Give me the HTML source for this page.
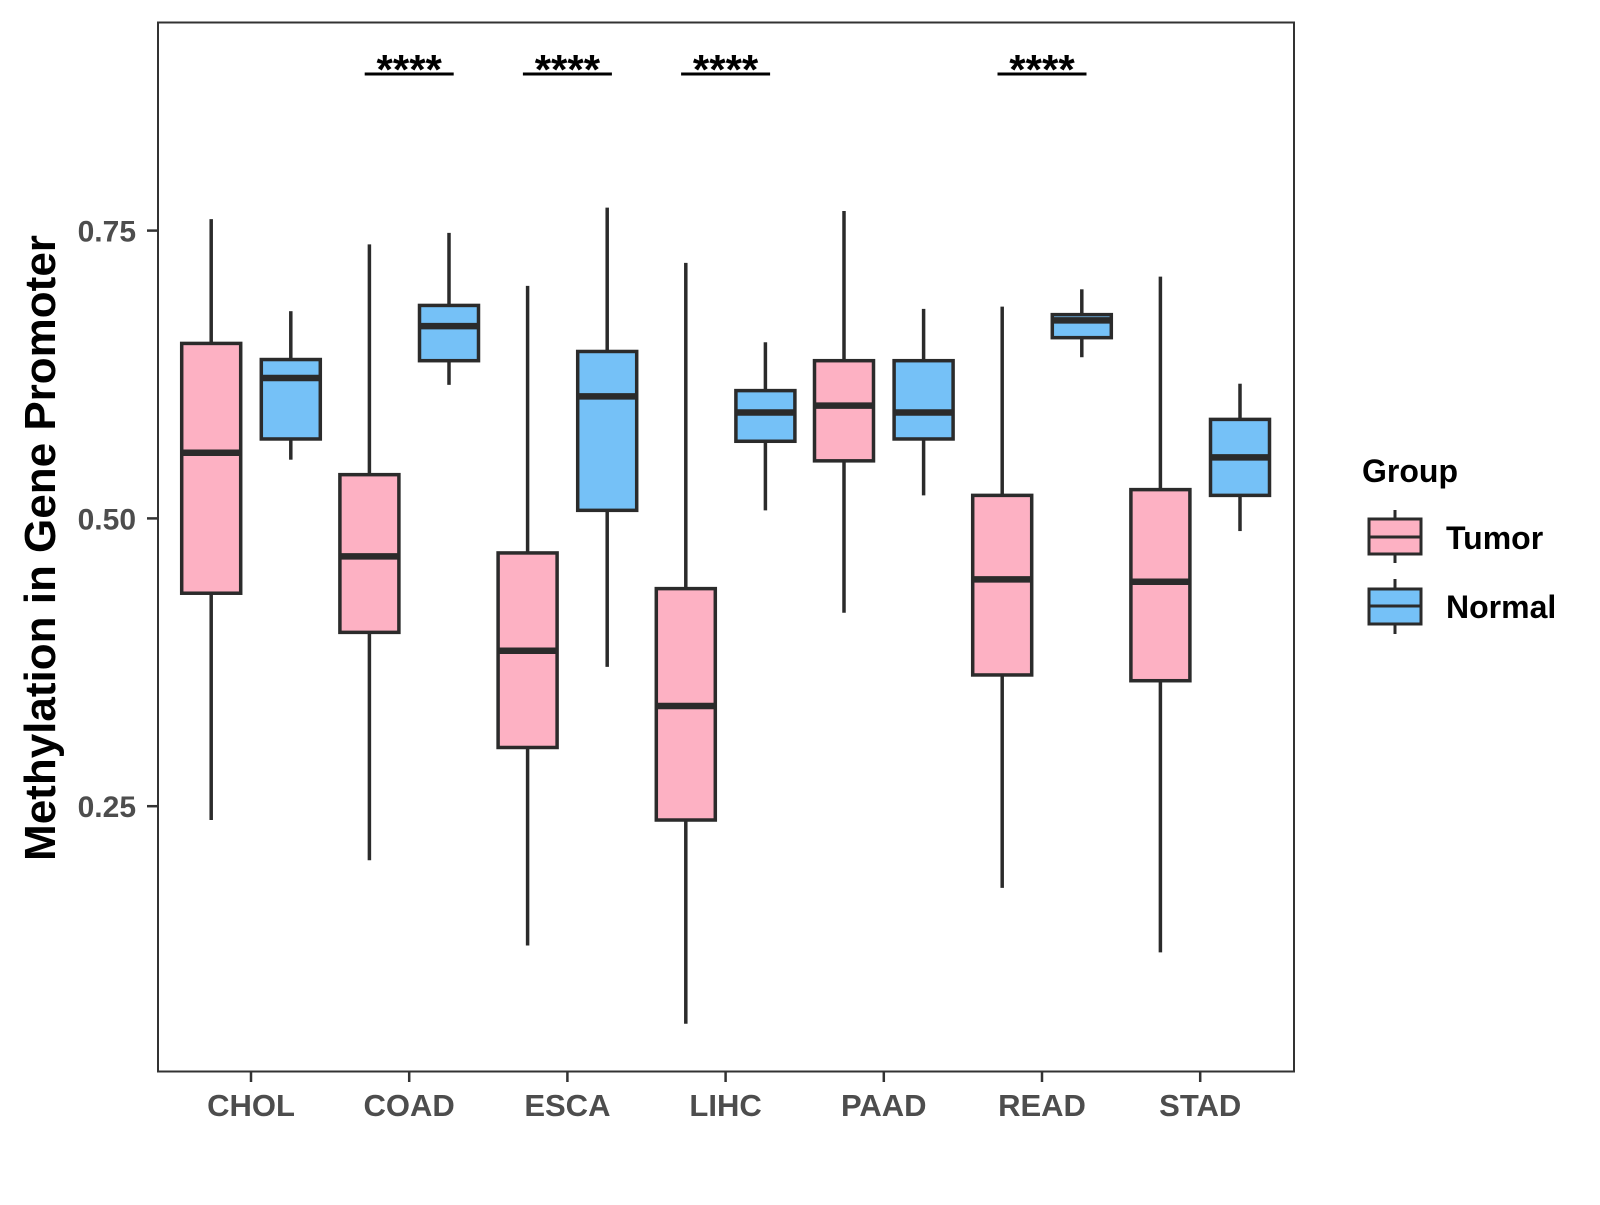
<!DOCTYPE html>
<html><head><meta charset="utf-8"><style>
body{margin:0;background:#fff}
svg text{font-family:"Liberation Sans",Arial,sans-serif;font-weight:bold}
</style></head><body>
<svg id="chart" width="1600" height="1200" xmlns="http://www.w3.org/2000/svg">
<rect x="158" y="22.5" width="1136" height="1049" fill="#fff" stroke="#333" stroke-width="2"/>
<g id="marks"></g>
<text transform="translate(55,548) rotate(-90)" text-anchor="middle" font-size="44" fill="#000">Methylation in Gene Promoter</text>
<g>
<text x="1362" y="482" font-size="32" fill="#000">Group</text>
<line x1="1395" y1="510" x2="1395" y2="563" stroke="#2b2b2b" stroke-width="3"/>
<rect x="1369" y="519" width="52" height="35" fill="#FDB1C3" stroke="#2b2b2b" stroke-width="3"/>
<line x1="1369" y1="537" x2="1421" y2="537" stroke="#2b2b2b" stroke-width="3"/>
<text x="1446" y="549" font-size="32" fill="#000">Tumor</text>
<line x1="1395" y1="579" x2="1395" y2="634" stroke="#2b2b2b" stroke-width="3"/>
<rect x="1369" y="589" width="52" height="35" fill="#75C1F7" stroke="#2b2b2b" stroke-width="3"/>
<line x1="1369" y1="606" x2="1421" y2="606" stroke="#2b2b2b" stroke-width="3"/>
<text x="1446" y="618" font-size="32" fill="#000">Normal</text>
</g>
</svg>
<script>
const categories=["CHOL","COAD","ESCA","LIHC","PAAD","READ","STAD"];
const tumorStats=[[0.238,0.435,0.557,0.652,0.760],[0.203,0.401,0.467,0.538,0.738],[0.129,0.301,0.385,0.470,0.702],[0.061,0.238,0.337,0.439,0.722],[0.418,0.550,0.598,0.637,0.767],[0.179,0.364,0.447,0.520,0.684],[0.123,0.359,0.445,0.525,0.710]];
const normalStats=[[0.551,0.569,0.622,0.638,0.680],[0.616,0.637,0.667,0.685,0.748],[0.371,0.507,0.606,0.645,0.770],[0.507,0.567,0.592,0.611,0.653],[0.520,0.569,0.592,0.637,0.682],[0.640,0.657,0.672,0.677,0.699],[0.489,0.520,0.553,0.586,0.617]];
const significance=["","****","****","****","","****",""];
const yTicks=[0.25,0.5,0.75];
const yTickLabels=["0.25","0.50","0.75"];
const NS="http://www.w3.org/2000/svg";
const g=document.getElementById('marks');
const y=v=>518.4-(v-0.5)*1151.2;
const x=i=>251+i*158.2;
function el(t,a,p){const e=document.createElementNS(NS,t);for(const k in a)e.setAttribute(k,a[k]);(p||g).appendChild(e);return e;}
yTicks.forEach((t,i)=>{
 const l=el('line',{x1:147,x2:158,y1:y(t),y2:y(t),stroke:'#333','stroke-width':2.5});
 
 
 const tx=el('text',{x:136,y:y(t)+11,'text-anchor':'end','font-size':30,fill:'#4d4d4d'});
 tx.textContent=yTickLabels[i];
 
 
});
function box(cx,s,fill,name){
 const w=59;
 const gr=el('g',{});
 
 
 el('line',{x1:cx,x2:cx,y1:y(s[4]),y2:y(s[3]),stroke:'#2b2b2b','stroke-width':3.5},gr);
 el('line',{x1:cx,x2:cx,y1:y(s[1]),y2:y(s[0]),stroke:'#2b2b2b','stroke-width':3.5},gr);
 el('rect',{x:cx-w/2,y:y(s[3]),width:w,height:y(s[1])-y(s[3]),fill:fill,stroke:'#2b2b2b','stroke-width':3.5},gr);
 el('line',{x1:cx-w/2,x2:cx+w/2,y1:y(s[2]),y2:y(s[2]),stroke:'#2b2b2b','stroke-width':6.5},gr);
}
categories.forEach((c,i)=>{
 const cx=x(i);
 const tk=el('line',{x1:cx,x2:cx,y1:1071,y2:1082,stroke:'#333','stroke-width':2.5});
 
 
 const t=el('text',{x:cx,y:1116,'text-anchor':'middle','font-size':31,fill:'#4d4d4d'});
 t.textContent=c;
 
 
 box(cx-39.8,tumorStats[i],'#FDB1C3','box-tumor-'+c.toLowerCase());
 box(cx+39.8,normalStats[i],'#75C1F7','box-normal-'+c.toLowerCase());
 if(significance[i]){
  const ln=el('line',{x1:cx-44.5,x2:cx+44.5,y1:74,y2:74,stroke:'#000','stroke-width':3});
  
  
  const st=el('text',{x:cx,y:84,'text-anchor':'middle','font-size':42,fill:'#000'});
  st.textContent=significance[i];
  
  
 }
});
</script>
</body></html>
